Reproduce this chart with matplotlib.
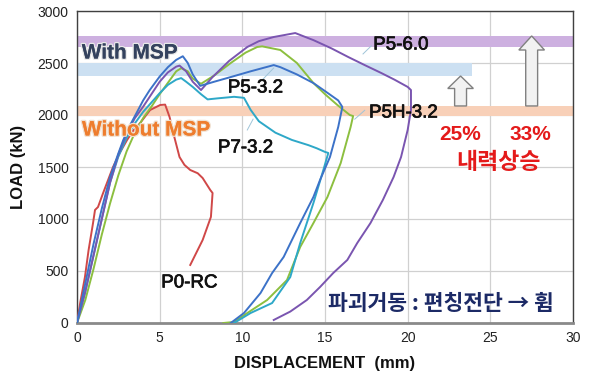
import matplotlib
matplotlib.use("Agg")
import matplotlib.pyplot as plt
import matplotlib.patheffects as pe

plt.rcParams['font.family'] = ['Liberation Sans', 'Noto Sans CJK KR', 'DejaVu Sans']

# ---------------- data (displacement mm, load kN) ----------------
p0_x = [0, 0.2, 0.48, 0.7, 0.97, 1.09, 1.27, 1.58, 2.18, 2.6, 3.03, 3.4, 3.82, 4.42, 5.03, 5.33, 5.6, 5.9, 6.2, 6.5, 6.85, 7.3, 7.6, 8.06, 8.2, 8.1, 7.6, 6.85]
p0_y = [0, 200, 442, 700, 961, 1087, 1115, 1250, 1500, 1640, 1760, 1850, 1923, 2048, 2096, 2100, 1980, 1780, 1596, 1520, 1471, 1440, 1394, 1279, 1250, 1020, 798, 558]

p53_x = [0, 0.5, 1.0, 1.5, 2.0, 2.5, 2.8, 3.2, 3.6, 4.0, 4.4, 5.0, 5.5, 6.0, 6.4, 6.7, 7.0, 7.45, 8.3, 9.3, 10.5, 11.9, 12.3, 13.3, 14.3, 15.0, 15.8, 16.05,
         15.8, 15.3, 14.7, 14.3, 13.5, 12.5, 11.8, 11.1, 10.1, 9.3]
p53_y = [0, 380, 760, 1100, 1404, 1630, 1760, 1900, 2019, 2140, 2240, 2370, 2460, 2530, 2565, 2500, 2390, 2280, 2320, 2365, 2420, 2480, 2460, 2390, 2307, 2230, 2140, 2077,
         1885, 1596, 1375, 1212, 961, 635, 480, 288, 96, 0]

p60_x = [0, 0.5, 1.0, 1.5, 2.0, 2.5, 3.0, 3.5, 4.0, 4.5, 5.0, 5.5, 6.0, 6.2, 6.6, 7.0, 7.5, 8.2, 9.2, 10.3, 11.0, 11.9, 13.2, 14.3, 15.4, 16.4, 17.4, 18.4, 19.2, 20.0,
         20.2, 20.2, 20.0, 19.6, 19.15, 18.5, 17.75, 16.95, 16.35, 15.5, 14.7, 13.9, 12.9, 11.9]
p60_y = [0, 300, 650, 1000, 1350, 1620, 1820, 1970, 2080, 2200, 2320, 2410, 2465, 2475, 2420, 2320, 2240, 2365, 2520, 2654, 2710, 2750, 2788, 2720, 2640, 2558, 2480, 2404, 2340, 2270,
         2240, 2048, 1856, 1596, 1404, 1183, 961, 769, 606, 481, 346, 221, 110, 29]

p5h_x = [0, 0.5, 1.0, 1.5, 2.0, 2.5, 3.0, 3.5, 4.0, 4.5, 5.0, 5.5, 6.0, 6.3, 6.7, 7.0, 7.5, 8.3, 9.3, 10.2, 10.9, 11.2, 12.3, 13.3, 14.3, 15.0, 15.75, 16.5, 16.7,
         16.55, 15.95, 15.15, 14.3, 13.5, 12.7, 11.5, 10.3, 9.5, 8.85]
p5h_y = [0, 220, 520, 850, 1150, 1420, 1650, 1830, 1970, 2080, 2200, 2310, 2420, 2450, 2420, 2350, 2300, 2380, 2500, 2600, 2654, 2660, 2625, 2500, 2307, 2200, 2096, 2000, 1990,
         1885, 1538, 1212, 961, 731, 413, 221, 96, 10, 0]

p73_x = [0, 0.5, 1.0, 1.5, 2.0, 2.5, 3.0, 3.5, 4.0, 4.5, 5.0, 5.5, 6.0, 6.3, 6.6, 7.0, 7.5, 7.9, 8.5, 9.5, 10.1, 10.5, 11.0, 12.0, 13.0, 14.0, 14.5, 15.0, 15.2,
         14.9, 14.3, 13.5, 12.9, 11.8, 10.5, 9.5]
p73_y = [0, 300, 650, 1000, 1350, 1600, 1780, 1920, 2030, 2120, 2210, 2290, 2340, 2355, 2320, 2270, 2200, 2150, 2160, 2175, 2165, 2050, 1940, 1830, 1760, 1710, 1680, 1645, 1635,
         1471, 1154, 769, 442, 192, 96, 0]

band_purple = (2650, 2760)
band_blue = (2375, 2497)
band_orange = (1990, 2087)
blue_band_end = 23.9

arrow_small = (23.2, 2087, 2375)
arrow_large = (27.5, 2087, 2760)

x_ticks = [0, 5, 10, 15, 20, 25, 30]
y_ticks = [0, 500, 1000, 1500, 2000, 2500, 3000]

# ---------------- figure ----------------
fig = plt.figure(figsize=(5.9, 3.78), dpi=100)
ax = fig.add_axes([77/590, 55/378, 496/590, 312/378])
ax.set_xlim(0, 30)
ax.set_ylim(0, 3000)
ax.set_xticks(x_ticks)
ax.set_yticks(y_ticks)
ax.tick_params(length=0, labelsize=10, pad=6, colors='#222222')
ax.grid(True, color='#D0D0D0', lw=0.9, zorder=0)
ax.set_axisbelow(True)
for s in ['left', 'top', 'right']:
    ax.spines[s].set_color('#404040')
    ax.spines[s].set_linewidth(1.0)
ax.spines['bottom'].set_color('#8A8A8A')
ax.spines['bottom'].set_linewidth(2.0)

# bands
ax.axhspan(*band_purple, color='#CDB0E0', lw=0, zorder=1)
ax.axhspan(*band_blue, xmin=0, xmax=blue_band_end/30, color='#CCE0F2', lw=0, zorder=1)
ax.axhspan(*band_orange, color='#F8D0B8', lw=0, zorder=1)

# curves
lw = 1.4
ax.plot(p0_x, p0_y, color='#D04848', lw=lw, zorder=4)
ax.plot(p5h_x, p5h_y, color='#8CBF3F', lw=lw, zorder=4)
ax.plot(p73_x, p73_y, color='#2EA8C8', lw=lw, zorder=4)
ax.plot(p60_x, p60_y, color='#7A55B0', lw=lw, zorder=5)
ax.plot(p53_x, p53_y, color='#3C72C8', lw=lw, zorder=5)

# arrows
for (xa, y0, y1), hl in [(arrow_small, 120), (arrow_large, 135)]:
    ax.arrow(xa, y0, 0, y1 - y0, width=0.72, head_width=1.55, head_length=hl,
             length_includes_head=True, facecolor='#F2F2F2', edgecolor='#808080', lw=1.0, zorder=6)

# leader lines
leader_col = '#9FC4D8'
ax.plot([11.2, 11.9], [2337, 2452], color=leader_col, lw=0.7, zorder=3)
ax.plot([10.3, 10.65], [1856, 1960], color=leader_col, lw=0.7, zorder=3)
ax.plot([17.3, 17.8], [2587, 2665], color=leader_col, lw=0.7, zorder=3)
ax.plot([16.8, 17.4], [1960, 2045], color=leader_col, lw=0.7, zorder=3)

# curve labels
bold_fx = [pe.withStroke(linewidth=0.5, foreground='#111111')]
lab_kw = dict(fontsize=13.5, color='#111111', ha='center', va='center', zorder=7, path_effects=bold_fx)
ax.text(10.8, 2260, 'P5-3.2', **lab_kw)
ax.text(10.2, 1683, 'P7-3.2', **lab_kw)
ax.text(19.6, 2673, 'P5-6.0', **lab_kw)
ax.text(19.75, 2019, 'P5H-3.2', **lab_kw)
ax.text(6.8, 385, 'P0-RC', **lab_kw)

ax.text(3.2, 2596, 'With MSP', fontweight='bold',
        fontsize=15, color='#34425E', ha='center', va='center', zorder=7,
        path_effects=[pe.withStroke(linewidth=2, foreground='#E8E8E8'), pe.SimpleLineShadow(offset=(1.2, -1.2), shadow_color='#909090'), pe.Normal()])
ax.text(4.2, 1856, 'Without MSP', fontweight='bold',
        fontsize=15, color='#EE7D2E', ha='center', va='center', zorder=7,
        path_effects=[pe.withStroke(linewidth=2, foreground='#F0E0D0'), pe.SimpleLineShadow(offset=(1.2, -1.2), shadow_color='#A08070'), pe.Normal()])

red_kw = dict(fontweight='bold', color='#E41A1A', ha='center', va='center', zorder=7)
ax.text(23.2, 1808, '25%', fontsize=15, **red_kw)
ax.text(27.4, 1808, '33%', fontsize=15, **red_kw)
ax.text(25.5, 1548, '내력상승', fontsize=16.5, family=['Noto Sans CJK KR', 'DejaVu Sans'], fontweight='bold',
        color='#E41A1A', ha='center', va='center', zorder=7)

ax.text(22.0, 192, '파괴거동 : 편칭전단 → 휨', fontsize=15.5, family=['Noto Sans CJK KR', 'DejaVu Sans'],
        fontweight='bold', color='#1C2A66', ha='center', va='center', zorder=7)

ax.set_xlabel('DISPLACEMENT  (mm)', fontsize=12, fontweight='bold', labelpad=8, color='#111111')
ax.set_ylabel('LOAD (kN)', fontsize=12, fontweight='bold', labelpad=8, color='#111111')

fig.savefig('out.png', dpi=100)
